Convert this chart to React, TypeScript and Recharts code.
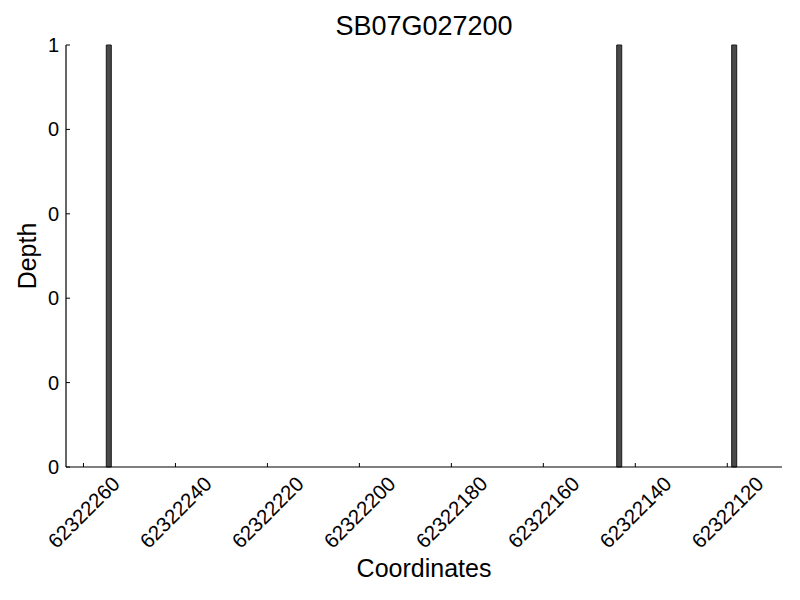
import { Bar, ComposedChart, XAxis, YAxis } from "recharts"

const coordinates = [62322255, 62322144, 62322119]
const depths = [1, 1, 1]
const xTicks = [62322260, 62322240, 62322220, 62322200, 62322180, 62322160, 62322140, 62322120]
const yTicks = [0, 0.2, 0.4, 0.6, 0.8, 1]

// bars span [coord-1, coord], so they sit half a unit off the integer
const data = coordinates.map((c, i) => ({ pos: c - 0.5, depth: depths[i] }))

const FONT = "'Liberation Sans', Arial, sans-serif"

function XTick(props: any) {
  const { x, y, payload } = props
  const cy = y + 45
  return (
    <g>
      <line x1={x} x2={x} y1={y} y2={y - 4} stroke="#000" />
      <text
        x={x}
        y={cy}
        textAnchor="middle"
        dominantBaseline="central"
        fontSize={20.5}
        fontFamily={FONT}
        fill="#000"
        transform={`rotate(-45, ${x}, ${cy})`}
      >
        {payload.value}
      </text>
    </g>
  )
}

function YTick(props: any) {
  const { x, y, payload } = props
  return (
    <g>
      <line x1={x} x2={x + 4} y1={y} y2={y} stroke="#000" />
      <text x={x - 7} y={y} textAnchor="end" dominantBaseline="central" fontSize={20} fontFamily={FONT} fill="#000">
        {Math.floor(payload.value)}
      </text>
    </g>
  )
}

function DepthLabel(props: any) {
  const vb = props.viewBox || {}
  const cy = (vb.y ?? 45) + (vb.height ?? 422) / 2
  const cx = 27
  return (
    <text
      x={cx}
      y={cy}
      textAnchor="middle"
      dominantBaseline="central"
      fontSize={25}
      fontFamily={FONT}
      fill="#000"
      transform={`rotate(-90, ${cx}, ${cy})`}
    >
      Depth
    </text>
  )
}

function CoordLabel(props: any) {
  const vb = props.viewBox || {}
  const cx = (vb.x ?? 66) + (vb.width ?? 716) / 2
  return (
    <text x={cx} y={577} textAnchor="middle" fontSize={25} fontFamily={FONT} fill="#000">
      Coordinates
    </text>
  )
}

export default function App() {
  return (
    <div style={{ position: "absolute", top: 0, left: 0, width: 800, height: 600, background: "#fff" }}>
      <div
        style={{
          position: "absolute",
          top: 11,
          left: 66,
          width: 716,
          textAlign: "center",
          fontFamily: FONT,
          fontSize: 27,
          lineHeight: "30px",
          color: "#000",
        }}
      >
        SB07G027200
      </div>
      <ComposedChart width={800} height={600} data={data} margin={{ top: 45, right: 18, bottom: 0, left: 0 }}>
        <XAxis
          dataKey="pos"
          type="number"
          domain={[62322108.1, 62322263.8]}
          allowDataOverflow
          reversed
          ticks={xTicks}
          interval={0}
          height={133}
          tickSize={0}
          tickMargin={0}
          tickLine={false}
          axisLine={{ stroke: "#000", strokeWidth: 1.2 }}
          tick={<XTick />}
          label={<CoordLabel />}
        />
        <YAxis
          type="number"
          domain={[0, 1]}
          ticks={yTicks}
          interval={0}
          width={66}
          tickSize={0}
          tickMargin={0}
          tickLine={false}
          axisLine={{ stroke: "#000", strokeWidth: 1.2 }}
          tick={<YTick />}
          label={<DepthLabel />}
        />
        <Bar dataKey="depth" barSize={5} fill="#4a4a4a" stroke="#1a1a1a" strokeWidth={1} isAnimationActive={false} />
      </ComposedChart>
    </div>
  )
}
